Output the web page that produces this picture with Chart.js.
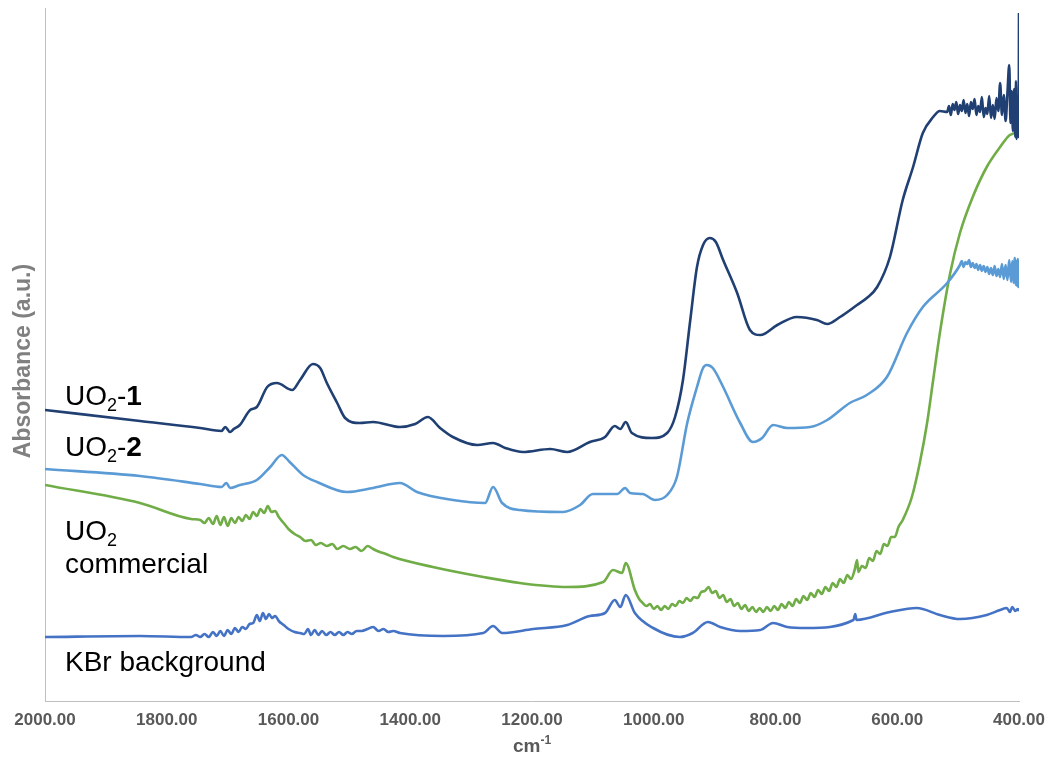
<!DOCTYPE html>
<html>
<head>
<meta charset="utf-8">
<title>IR spectra</title>
<script src="https://cdn.jsdelivr.net/npm/chart.js@4/dist/chart.umd.min.js"></script>
<style>
  html, body { margin: 0; padding: 0; background: #ffffff; }
  #wrap { position: relative; width: 1050px; height: 763px; }
</style>
</head>
<body>
<div id="wrap"><canvas id="c" width="1050" height="763"></canvas></div>
<script>
// Wavenumber axis (cm-1), drawn high to low
const xTicks = [2000, 1800, 1600, 1400, 1200, 1000, 800, 600, 400];

// UO2-1
const uo2_1_wn  = [2000, 1844, 1745, 1710, 1704, 1696, 1690, 1680, 1663, 1652, 1635, 1619, 1594, 1581, 1560, 1548, 1537, 1520, 1507, 1483, 1461, 1417, 1392, 1371, 1351, 1330, 1290, 1264, 1244, 1215, 1170, 1142, 1105, 1080, 1064, 1055, 1046, 1036, 1003, 978, 965, 952, 940, 929, 919, 908, 898, 886, 863, 842, 825, 797, 765, 732, 715, 694, 666, 650, 633, 612, 591, 574, 558, 541, 530,
  518, 515, 512, 509, 506, 503, 500, 497, 494, 491, 488, 485, 482, 479, 476, 473, 470, 467, 464, 461, 458, 455, 452, 449, 446, 443, 440, 437, 434, 431, 428, 425, 422, 419, 416, 414, 412, 410, 408, 406, 405, 404, 403, 402, 401, 400.5, 400];
const uo2_1_abs = [2.91, 2.80, 2.73, 2.70, 2.74, 2.69, 2.72, 2.76, 2.91, 2.94, 3.14, 3.18, 3.11, 3.21, 3.37, 3.33, 3.18, 2.98, 2.83, 2.78, 2.79, 2.74, 2.77, 2.84, 2.73, 2.64, 2.56, 2.58, 2.53, 2.49, 2.52, 2.49, 2.59, 2.64, 2.75, 2.72, 2.79, 2.68, 2.63, 2.68, 2.84, 3.21, 3.81, 4.34, 4.56, 4.63, 4.59, 4.41, 4.08, 3.71, 3.66, 3.76, 3.84, 3.81, 3.77, 3.84, 3.96, 4.03, 4.14, 4.44, 5.01, 5.34, 5.68, 5.84, 5.90,
  5.89, 5.95, 5.86, 5.97, 5.91, 5.99, 5.87, 5.96, 5.90, 6.01, 5.88, 5.97, 5.85, 5.99, 5.92, 6.02, 5.86, 5.95, 5.89, 6.04, 5.84, 5.93, 5.87, 6.05, 5.83, 5.96, 5.82, 6.03, 5.90, 6.18, 5.86, 6.06, 5.80, 6.08, 6.36, 5.78, 6.10, 5.70, 6.12, 5.64, 6.20, 5.62, 6.05, 5.66, 6.00, 5.64, 6.88];

// UO2-2
const uo2_2_wn  = [2000, 1844, 1745, 1710, 1702, 1696, 1680, 1652, 1630, 1611, 1598, 1576, 1553, 1504, 1461, 1417, 1389, 1330, 1277, 1264, 1249, 1220, 1149, 1121, 1100, 1060, 1047, 1039, 1018, 998, 978, 962, 945, 929, 919, 913, 903, 886, 858, 837, 822, 804, 781, 743, 715, 678, 650, 617, 584, 558, 518,
  497, 494, 491, 488, 485, 482, 479, 476, 473, 470, 467, 464, 461, 458, 455, 452, 449, 446, 443, 440, 437, 434, 431, 428, 425, 422, 419, 416, 413, 411, 409, 407, 405, 404, 403, 402, 401, 400];
const uo2_2_abs = [2.32, 2.25, 2.17, 2.14, 2.18, 2.13, 2.16, 2.21, 2.34, 2.46, 2.39, 2.26, 2.19, 2.09, 2.13, 2.18, 2.09, 2.01, 1.98, 2.14, 1.98, 1.91, 1.89, 1.96, 2.07, 2.07, 2.13, 2.08, 2.07, 2.01, 2.06, 2.24, 2.78, 3.14, 3.33, 3.36, 3.33, 3.14, 2.78, 2.59, 2.63, 2.76, 2.73, 2.74, 2.81, 2.98, 3.06, 3.24, 3.68, 3.94, 4.18,
  4.36, 4.40, 4.34, 4.39, 4.37, 4.41, 4.34, 4.38, 4.33, 4.37, 4.31, 4.36, 4.30, 4.35, 4.29, 4.34, 4.27, 4.33, 4.26, 4.35, 4.25, 4.32, 4.24, 4.37, 4.22, 4.36, 4.21, 4.41, 4.19, 4.40, 4.18, 4.43, 4.16, 4.40, 4.15, 4.42, 4.14, 4.16];

// UO2 commercial
const uo2_com_wn  = [2000, 1844, 1760, 1745, 1738, 1731, 1724, 1718, 1712, 1706, 1700, 1694, 1688, 1682, 1676, 1670, 1664, 1658, 1652, 1646, 1640, 1634, 1628, 1622, 1616, 1608, 1600, 1590, 1581, 1572, 1563, 1555, 1547, 1537, 1528, 1520, 1510, 1499, 1490, 1480, 1470, 1461, 1450, 1440, 1428, 1363, 1280, 1220, 1142, 1083, 1067, 1052, 1046,
  1031, 1024, 1018, 1012, 1006, 1000, 994, 988, 982, 976, 970, 964, 958, 952, 946, 940, 934, 928, 922, 916, 910, 904, 898, 892, 886, 880, 874, 868, 862, 856, 850, 844, 838, 832, 826, 820, 814, 808, 802, 796, 790, 784, 778, 772, 766, 760, 754, 748, 742, 736, 730, 724, 718, 712, 706, 700, 694, 688, 682, 676, 670, 666, 664, 658, 652, 646, 640, 634, 628, 622, 616, 610, 604, 598, 591,
  576, 563, 551, 541, 530, 513, 497, 476, 453, 431, 415, 402, 400];
const uo2_com_abs = [2.16, 1.98, 1.82, 1.81, 1.78, 1.83, 1.77, 1.85, 1.76, 1.84, 1.75, 1.83, 1.78, 1.84, 1.80, 1.86, 1.82, 1.89, 1.85, 1.92, 1.88, 1.95, 1.89, 1.90, 1.84, 1.78, 1.72, 1.67, 1.64, 1.60, 1.61, 1.56, 1.58, 1.55, 1.57, 1.52, 1.55, 1.52, 1.54, 1.50, 1.55, 1.52, 1.49, 1.47, 1.44, 1.34, 1.24, 1.18, 1.14, 1.19, 1.31, 1.28, 1.38,
  1.11, 1.02, 0.98, 0.95, 0.97, 0.92, 0.95, 0.91, 0.95, 0.92, 0.97, 0.95, 1.00, 0.98, 1.03, 1.00, 1.04, 1.03, 1.09, 1.10, 1.14, 1.08, 1.10, 1.03, 1.06, 0.99, 1.02, 0.95, 0.98, 0.92, 0.96, 0.90, 0.94, 0.89, 0.93, 0.89, 0.94, 0.90, 0.95, 0.91, 0.97, 0.93, 0.99, 0.95, 1.02, 0.98, 1.05, 1.01, 1.08, 1.04, 1.11, 1.07, 1.14, 1.10, 1.18, 1.14, 1.22, 1.18, 1.26, 1.22, 1.31, 1.41, 1.29, 1.35, 1.33, 1.43, 1.40, 1.50, 1.47, 1.57, 1.55, 1.64, 1.64, 1.74, 1.81,
  2.04, 2.38, 2.78, 3.21, 3.68, 4.28, 4.68, 5.04, 5.34, 5.54, 5.66, 5.68, 5.66];

// KBr background
const kbr_wn  = [2000, 1844, 1760, 1752, 1745, 1738, 1731, 1724, 1718, 1712, 1706, 1700, 1694, 1688, 1682, 1676, 1670, 1664, 1658, 1652, 1647, 1642, 1637, 1632, 1627, 1622, 1616, 1608, 1600, 1590, 1581, 1574, 1568, 1563, 1557, 1551, 1545, 1538, 1531, 1524, 1517, 1510, 1503, 1496, 1488, 1480, 1470, 1461, 1452, 1444, 1436, 1428, 1417,
  1346, 1280, 1264, 1249, 1198, 1142, 1105, 1080, 1064, 1055, 1046, 1031, 1001, 957, 936, 911, 891, 858, 825, 804, 781, 749, 672, 669, 667, 612, 568, 530, 497, 453, 431, 420, 415, 411, 406, 402, 400];
const kbr_abs = [0.64, 0.65, 0.64, 0.66, 0.64, 0.67, 0.64, 0.69, 0.65, 0.70, 0.65, 0.71, 0.67, 0.73, 0.69, 0.74, 0.72, 0.77, 0.78, 0.86, 0.80, 0.88, 0.82, 0.87, 0.83, 0.85, 0.80, 0.76, 0.72, 0.69, 0.68, 0.67, 0.72, 0.66, 0.71, 0.66, 0.70, 0.66, 0.69, 0.66, 0.69, 0.66, 0.69, 0.67, 0.70, 0.70, 0.72, 0.74, 0.70, 0.72, 0.69, 0.70, 0.68,
  0.65, 0.68, 0.75, 0.68, 0.72, 0.76, 0.85, 0.88, 1.01, 0.94, 1.06, 0.88, 0.73, 0.64, 0.68, 0.79, 0.74, 0.70, 0.71, 0.78, 0.74, 0.73, 0.81, 0.87, 0.81, 0.89, 0.93, 0.86, 0.82, 0.86, 0.91, 0.93, 0.89, 0.94, 0.90, 0.92, 0.90];

const pairs = (wn, ab) => wn.map((w, i) => ({ x: w, y: ab[i] }));

const seriesStyle = (color) => ({
  borderColor: color,
  borderWidth: 2.6,
  pointRadius: 0,
  cubicInterpolationMode: 'monotone',
  fill: false
});

const FONT = '"Liberation Sans", Arial, Helvetica, sans-serif';

// Draws a run of text pieces (normal / bold / subscript / superscript)
function drawRun(ctx, x, y, pieces) {
  let cx = x;
  for (const p of pieces) {
    ctx.font = p.font;
    ctx.fillText(p.text, cx, y + (p.dy || 0));
    cx += ctx.measureText(p.text).width;
  }
  return cx;
}

const textPlugin = {
  id: 'spectraText',
  afterDraw(chart) {
    const ctx = chart.ctx;
    const a = chart.chartArea;
    ctx.save();
    ctx.textBaseline = 'alphabetic';
    ctx.textAlign = 'left';

    // Series labels
    ctx.fillStyle = '#000000';
    const big = '28px ' + FONT;
    const bigB = 'bold 28px ' + FONT;
    const sub = '18px ' + FONT;
    const lx = a.left + 20;
    drawRun(ctx, lx, 405, [
      { text: 'UO', font: big }, { text: '2', font: sub, dy: 6 },
      { text: '-', font: big }, { text: '1', font: bigB }
    ]);
    drawRun(ctx, lx, 456, [
      { text: 'UO', font: big }, { text: '2', font: sub, dy: 6 },
      { text: '-', font: big }, { text: '2', font: bigB }
    ]);
    drawRun(ctx, lx, 540, [
      { text: 'UO', font: big }, { text: '2', font: sub, dy: 6 }
    ]);
    drawRun(ctx, lx, 573, [{ text: 'commercial', font: big }]);
    drawRun(ctx, lx, 671, [{ text: 'KBr background', font: big }]);

    // X axis title: cm-1
    ctx.fillStyle = '#595959';
    const t1 = 'bold 19px ' + FONT;
    const t2 = 'bold 12px ' + FONT;
    ctx.font = t1;
    const w1 = ctx.measureText('cm').width;
    ctx.font = t2;
    const w2 = ctx.measureText('-1').width;
    const cx = (a.left + a.right) / 2 - (w1 + w2) / 2;
    drawRun(ctx, cx, 752, [
      { text: 'cm', font: t1 }, { text: '-1', font: t2, dy: -8 }
    ]);

    // Y axis title
    ctx.fillStyle = '#808080';
    ctx.font = 'bold 23px ' + FONT;
    ctx.translate(30, 361);
    ctx.rotate(-Math.PI / 2);
    ctx.textAlign = 'center';
    ctx.fillText('Absorbance (a.u.)', 0, 0);
    ctx.restore();
  }
};

new Chart(document.getElementById('c'), {
  type: 'line',
  data: {
    datasets: [
      { label: 'UO2-1', data: pairs(uo2_1_wn, uo2_1_abs), ...seriesStyle('#203f72') },
      { label: 'UO2-2', data: pairs(uo2_2_wn, uo2_2_abs), ...seriesStyle('#5b9bd5') },
      { label: 'UO2 commercial', data: pairs(uo2_com_wn, uo2_com_abs), ...seriesStyle('#70ad47') },
      { label: 'KBr background', data: pairs(kbr_wn, kbr_abs), ...seriesStyle('#4472c4') }
    ]
  },
  options: {
    responsive: false,
    animation: false,
    layout: { padding: { top: 8, right: 31, bottom: 0, left: 0 } },
    plugins: { legend: { display: false }, tooltip: { enabled: false } },
    scales: {
      x: {
        type: 'linear',
        reverse: true,
        min: 400,
        max: 2000,
        afterBuildTicks(scale) { scale.ticks = xTicks.map(v => ({ value: v })); },
        afterFit(scale) {
          scale.height = 62;
          scale.paddingLeft = 0;
          scale.paddingRight = 0;
        },
        grid: { display: false },
        border: { display: true, color: '#bfbfbf', width: 1 },
        ticks: {
          color: '#595959',
          padding: 1,
          maxRotation: 0,
          autoSkip: false,
          font: { family: FONT, size: 17, weight: 'bold' },
          callback: (v) => Number(v).toFixed(2)
        }
      },
      y: {
        min: 0,
        max: 6.93,
        afterFit(scale) { scale.width = 45; },
        grid: { display: false },
        border: { display: true, color: '#bfbfbf', width: 1 },
        ticks: { display: false }
      }
    }
  },
  plugins: [textPlugin]
});
</script>
</body>
</html>
